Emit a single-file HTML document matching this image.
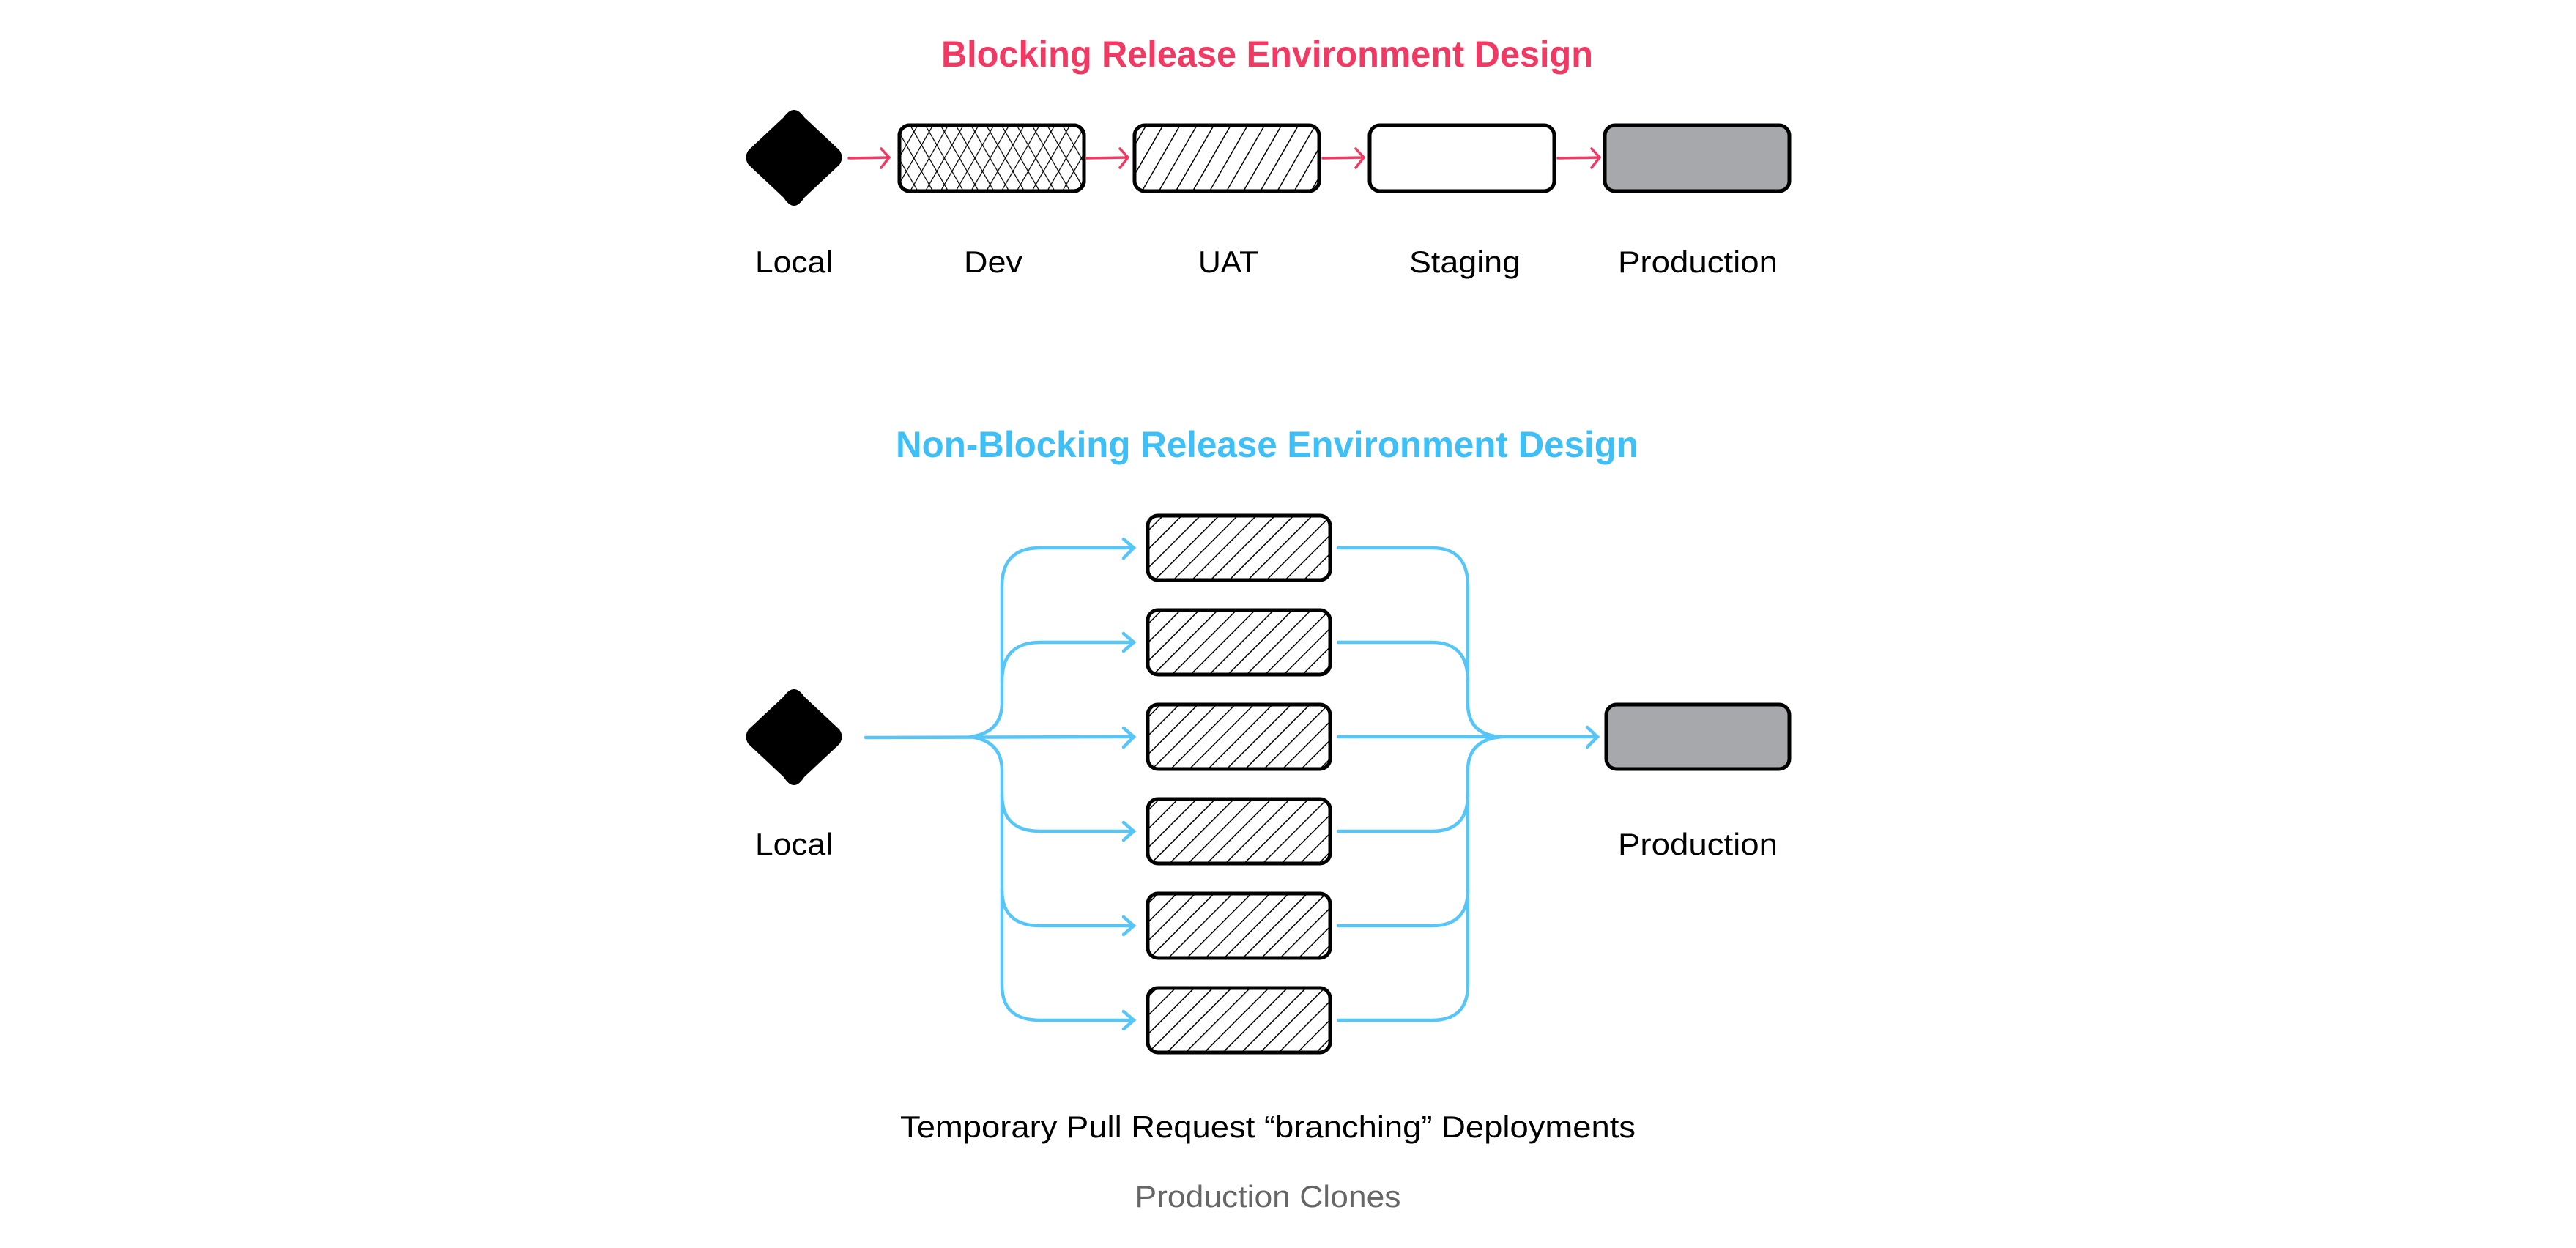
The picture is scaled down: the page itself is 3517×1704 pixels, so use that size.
<!DOCTYPE html>
<html><head><meta charset="utf-8"><style>
html,body{margin:0;padding:0;background:#fff;}
svg{display:block;}
text{font-family:"Liberation Sans",sans-serif;}
</style></head><body>
<svg width="3517" height="1704" viewBox="0 0 3517 1704" xmlns="http://www.w3.org/2000/svg">
<defs>
<pattern id="hatch" patternUnits="userSpaceOnUse" width="18" height="18" patternTransform="rotate(45)">
<rect width="18" height="18" fill="#fff"/><line x1="0" y1="0" x2="0" y2="18" stroke="#000" stroke-width="3"/>
</pattern>
<pattern id="hatchU" patternUnits="userSpaceOnUse" width="20" height="20" patternTransform="rotate(30)">
<rect width="20" height="20" fill="#fff"/><line x1="0" y1="0" x2="0" y2="20" stroke="#000" stroke-width="3"/>
</pattern>
<pattern id="cross" patternUnits="userSpaceOnUse" width="18" height="18" patternTransform="rotate(30)">
<rect width="18" height="18" fill="#fff"/><line x1="0" y1="0" x2="0" y2="18" stroke="#000" stroke-width="2.5"/>
</pattern>
<pattern id="cross2" patternUnits="userSpaceOnUse" width="18" height="18" patternTransform="rotate(-30)">
<line x1="0" y1="0" x2="0" y2="18" stroke="#000" stroke-width="2.5"/>
</pattern>
</defs>

<text x="1730" y="91" font-size="50" font-weight="bold" fill="#f03a64" text-anchor="middle" textLength="890" lengthAdjust="spacingAndGlyphs">Blocking Release Environment Design</text>

<path d="M1084,150 Q1091,150 1098,160 L1146,205 Q1153,215 1146,225 L1098,270 Q1091,281 1084,281 Q1077,281 1070,270 L1022,225 Q1015,215 1022,205 L1070,160 Q1077,150 1084,150 Z" fill="#000"/>

<rect x="1228" y="171" width="252" height="90" rx="14" fill="url(#cross)" stroke="#000" stroke-width="5"/>
<rect x="1228" y="171" width="252" height="90" rx="14" fill="url(#cross2)" stroke="#000" stroke-width="5"/>
<rect x="1549" y="171" width="252" height="90" rx="14" fill="url(#hatchU)" stroke="#000" stroke-width="5"/>
<rect x="1870" y="171" width="252" height="90" rx="14" fill="#fff" stroke="#000" stroke-width="5"/>
<rect x="2191" y="171" width="252" height="90" rx="14" fill="#a7a8ab" stroke="#000" stroke-width="5"/>

<g stroke="#f03a64" stroke-width="3.5" fill="none" stroke-linecap="round">
<path d="M1159,216 L1214,215 M1203,203 L1214,215 L1203,229"/>
<path d="M1483,216 L1540,215 M1529,203 L1540,215 L1529,229"/>
<path d="M1806,216 L1862,215 M1851,203 L1862,215 L1851,229"/>
<path d="M2127,216 L2184,215 M2173,203 L2184,215 L2173,229"/>
</g>

<g font-size="42" fill="#000" text-anchor="middle">
<text x="1084" y="372" textLength="106" lengthAdjust="spacingAndGlyphs">Local</text>
<text x="1356" y="372" textLength="80" lengthAdjust="spacingAndGlyphs">Dev</text>
<text x="1677" y="372" textLength="82" lengthAdjust="spacingAndGlyphs">UAT</text>
<text x="2000" y="372" textLength="152" lengthAdjust="spacingAndGlyphs">Staging</text>
<text x="2318" y="372" textLength="218" lengthAdjust="spacingAndGlyphs">Production</text>
</g>

<text x="1730" y="624" font-size="50" font-weight="bold" fill="#3dbff7" text-anchor="middle" textLength="1014" lengthAdjust="spacingAndGlyphs">Non-Blocking Release Environment Design</text>

<path d="M1084,941 Q1091,941 1098,951 L1146,996 Q1153,1006 1146,1016 L1098,1061 Q1091,1072 1084,1072 Q1077,1072 1070,1061 L1022,1016 Q1015,1006 1022,996 L1070,951 Q1077,941 1084,941 Z" fill="#000"/>

<g stroke="#000" stroke-width="5">
<rect x="1567" y="704" width="249" height="88" rx="14" fill="url(#hatch)"/>
<rect x="1567" y="833" width="249" height="88" rx="14" fill="url(#hatch)"/>
<rect x="1567" y="962" width="249" height="88" rx="14" fill="url(#hatch)"/>
<rect x="1567" y="1091" width="249" height="88" rx="14" fill="url(#hatch)"/>
<rect x="1567" y="1220" width="249" height="88" rx="14" fill="url(#hatch)"/>
<rect x="1567" y="1349" width="249" height="88" rx="14" fill="url(#hatch)"/>
<rect x="2193" y="962" width="250" height="88" rx="14" fill="#a7a8ab"/>
</g>

<g stroke="#56c6f8" stroke-width="4.5" fill="none" stroke-linecap="round">
<path d="M1182,1007 L1546,1006"/>
<path d="M1325,1006 Q1368,1000 1368,960 L1368,800 Q1368,748 1420,748 L1546,748"/>
<path d="M1368,930 Q1368,877 1420,877 L1546,877"/>
<path d="M1325,1006 Q1368,1012 1368,1052 L1368,1345 Q1368,1393 1420,1393 L1546,1393"/>
<path d="M1368,1085 Q1368,1135 1420,1135 L1546,1135"/>
<path d="M1368,1215 Q1368,1264 1420,1264 L1546,1264"/>
<path d="M1534,736 L1548,748 L1534,762 M1534,865 L1548,877 L1534,889 M1534,994 L1548,1006 L1534,1020 M1534,1123 L1548,1135 L1534,1147 M1534,1252 L1548,1264 L1534,1276 M1534,1381 L1548,1393 L1534,1405"/>
<path d="M1827,748 L1955,748 Q2004,748 2004,800 L2004,960 Q2004,1004 2050,1006"/>
<path d="M1827,877 L1955,877 Q2004,877 2004,930"/>
<path d="M1827,1006 L2181,1006"/>
<path d="M1827,1135 L1955,1135 Q2004,1135 2004,1085"/>
<path d="M1827,1264 L1955,1264 Q2004,1264 2004,1215"/>
<path d="M1827,1393 L1955,1393 Q2004,1393 2004,1345 L2004,1052 Q2004,1010 2050,1006"/>
<path d="M2167,993 L2181,1006 L2167,1020"/>
</g>

<g font-size="42" fill="#000" text-anchor="middle">
<text x="1084" y="1167" textLength="106" lengthAdjust="spacingAndGlyphs">Local</text>
<text x="2318" y="1167" textLength="218" lengthAdjust="spacingAndGlyphs">Production</text>
<text x="1731" y="1553" textLength="1004" lengthAdjust="spacingAndGlyphs">Temporary Pull Request “branching” Deployments</text>
<text x="1731" y="1648" fill="#666" textLength="363" lengthAdjust="spacingAndGlyphs">Production Clones</text>
</g>
</svg>
</body></html>
